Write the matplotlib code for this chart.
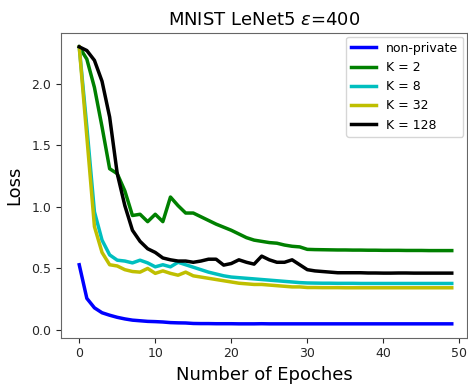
import numpy as np
from matplotlib import pyplot as plt

epochs = np.arange(50)

loss_nonprivate = [0.53, 0.257, 0.18, 0.14, 0.12, 0.103, 0.09, 0.08, 0.075, 0.07,
                   0.068, 0.065, 0.06, 0.058, 0.057, 0.053, 0.052, 0.052, 0.051, 0.051,
                   0.051, 0.05, 0.05, 0.05, 0.051, 0.05, 0.05, 0.05, 0.05, 0.05,
                   0.05, 0.05, 0.05, 0.05, 0.05, 0.05, 0.05, 0.05, 0.05, 0.05,
                   0.05, 0.05, 0.05, 0.05, 0.05, 0.05, 0.05, 0.05, 0.05, 0.05]
loss_k2 = [2.30, 2.20, 1.97, 1.65, 1.31, 1.27, 1.13, 0.93, 0.94, 0.88,
           0.94, 0.88, 1.08, 1.01, 0.95, 0.95, 0.92, 0.89, 0.86, 0.835,
           0.81, 0.78, 0.75, 0.73, 0.72, 0.71, 0.705, 0.69, 0.68, 0.675,
           0.655, 0.653, 0.652, 0.651, 0.65, 0.65, 0.649, 0.649, 0.648, 0.648,
           0.647, 0.647, 0.647, 0.646, 0.646, 0.646, 0.645, 0.645, 0.645, 0.645]
loss_k8 = [2.30, 1.65, 0.96, 0.73, 0.61, 0.567, 0.56, 0.545, 0.567, 0.545,
           0.513, 0.53, 0.513, 0.55, 0.53, 0.51, 0.49, 0.47, 0.455, 0.44,
           0.43, 0.425, 0.42, 0.415, 0.41, 0.405, 0.40, 0.395, 0.39, 0.385,
           0.382, 0.381, 0.38, 0.38, 0.379, 0.379, 0.379, 0.378, 0.378, 0.378,
           0.378, 0.378, 0.378, 0.378, 0.378, 0.378, 0.378, 0.378, 0.378, 0.378]
loss_k32 = [2.30, 1.57, 0.84, 0.63, 0.53, 0.52, 0.49, 0.475, 0.47, 0.50,
            0.46, 0.48, 0.46, 0.445, 0.47, 0.44, 0.43, 0.42, 0.41, 0.40,
            0.39, 0.38, 0.375, 0.37, 0.37, 0.365, 0.36, 0.355, 0.35, 0.35,
            0.345, 0.345, 0.344, 0.344, 0.344, 0.343, 0.343, 0.343, 0.343, 0.343,
            0.343, 0.343, 0.343, 0.343, 0.343, 0.343, 0.343, 0.343, 0.343, 0.343]
loss_k128 = [2.30, 2.27, 2.19, 2.02, 1.73, 1.27, 1.01, 0.81, 0.72, 0.66,
             0.63, 0.585, 0.57, 0.56, 0.56, 0.55, 0.56, 0.575, 0.575, 0.527,
             0.54, 0.57, 0.55, 0.535, 0.60, 0.57, 0.55, 0.55, 0.57, 0.53,
             0.49, 0.48, 0.475, 0.47, 0.465, 0.465, 0.465, 0.465, 0.463, 0.463,
             0.462, 0.462, 0.463, 0.463, 0.462, 0.462, 0.462, 0.462, 0.462, 0.462]

series = [(loss_nonprivate, 'b', 'non-private'),
          (loss_k2, 'g', 'K = 2'),
          (loss_k8, 'c', 'K = 8'),
          (loss_k32, 'y', 'K = 32'),
          (loss_k128, 'k', 'K = 128')]

fig = plt.figure(figsize=(4.68, 3.84), dpi=100)
ax = fig.add_axes([0.1303, 0.1206, 0.8675, 0.7935])
for vals, col, lab in series:
    ax.plot(epochs, vals, color=col, linewidth=2.5, label=lab)

ax.set_xlim(-2.4, 51.0)
ax.set_ylim(-0.0625, 2.4125)
ax.set_xticks([0, 10, 20, 30, 40, 50])
ax.set_yticks([0.0, 0.5, 1.0, 1.5, 2.0])
ax.tick_params(labelsize=9, colors='0.15')
for s in ax.spines.values():
    s.set_color('0.4')

ax.set_title(r'MNIST LeNet5 $\epsilon$=400', fontsize=13)
ax.set_xlabel('Number of Epoches', fontsize=13)
ax.set_ylabel('Loss', fontsize=13, labelpad=6)
ax.legend(loc='upper right', fontsize=9, borderaxespad=0.3)

fig.savefig('out.png', dpi=100)
